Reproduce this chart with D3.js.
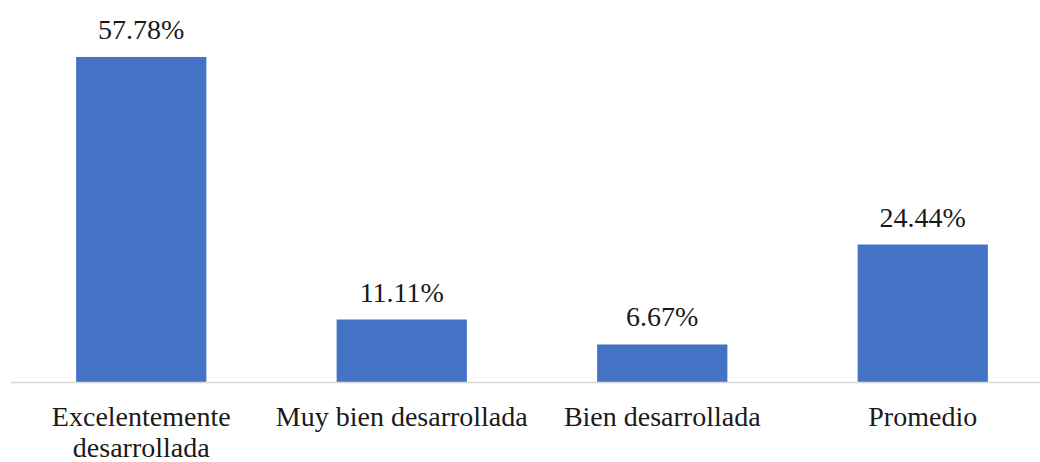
<!DOCTYPE html>
<html>
<head>
<meta charset="utf-8">
<script src="https://cdn.jsdelivr.net/npm/d3@7"></script>
<style>
  html, body { margin: 0; padding: 0; background: #fff; }
  svg { display: block; }
</style>
</head>
<body>
<svg id="chart" width="1040" height="462"></svg>
<script>
const categories = ["Excelentemente desarrollada", "Muy bien desarrollada", "Bien desarrollada", "Promedio"];
const values = [57.78, 11.11, 6.67, 24.44];
const valueLabels = ["57.78%", "11.11%", "6.67%", "24.44%"];

const FONT = "'Liberation Serif', 'Times New Roman', serif";
const svg = d3.select("#chart");
const W = 1040;
const baseY = 382;

const x = d3.scaleBand()
  .domain(categories)
  .range([11, 1053])
  .paddingInner(0.5)
  .paddingOuter(0.25);

const y = d3.scaleLinear()
  .domain([0, 60])
  .range([baseY, 44.5]);

// bars
svg.append("g").selectAll("rect")
  .data(categories)
  .join("rect")
  .attr("x", d => x(d))
  .attr("y", (d, i) => y(values[i]))
  .attr("width", x.bandwidth())
  .attr("height", (d, i) => y(0) - y(values[i]))
  .attr("fill", "#4472C4");

// category axis line
svg.append("line")
  .attr("x1", 11).attr("x2", W)
  .attr("y1", baseY + 0.5).attr("y2", baseY + 0.5)
  .attr("stroke", "#d9d9d9")
  .attr("stroke-width", 1.5);

// value labels
svg.append("g").selectAll("text")
  .data(categories)
  .join("text")
  .attr("x", d => x(d) + x.bandwidth() / 2)
  .attr("y", (d, i) => y(values[i]) - 18)
  .attr("text-anchor", "middle")
  .attr("font-family", FONT)
  .attr("font-size", 28)
  .attr("fill", "#1a1a1a")
  .text((d, i) => valueLabels[i]);

// category labels, wrapped to the band step
const maxW = x.step() * 1.04;
const catG = svg.append("g");
categories.forEach(c => {
  const cx = x(c) + x.bandwidth() / 2;
  const t = catG.append("text")
    .attr("x", cx)
    .attr("y", baseY + 44)
    .attr("text-anchor", "middle")
    .attr("font-family", FONT)
    .attr("font-size", 28)
    .attr("fill", "#1a1a1a");
  const words = c.split(" ");
  let line = [];
  let ts = t.append("tspan").attr("x", cx).attr("dy", 0);
  words.forEach(w => {
    line.push(w);
    ts.text(line.join(" "));
    if (ts.node().getComputedTextLength() > maxW && line.length > 1) {
      line.pop();
      ts.text(line.join(" "));
      line = [w];
      ts = t.append("tspan").attr("x", cx).attr("dy", 31).text(w);
    }
  });
});
</script>
</body>
</html>
